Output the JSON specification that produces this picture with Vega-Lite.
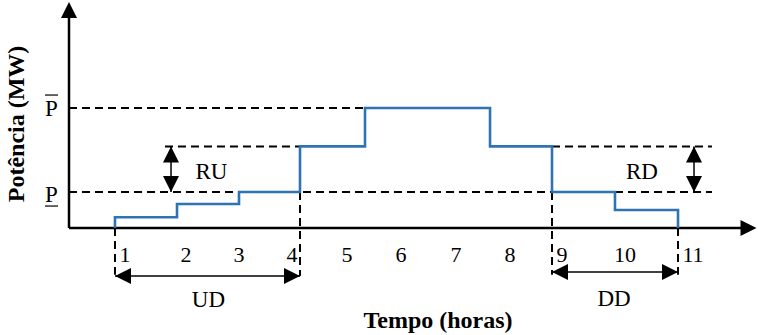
{
  "$schema": "https://vega.github.io/schema/vega-lite/v6.json",
  "width": 758,
  "height": 335,
  "autosize": {"type": "fit", "contains": "padding"},
  "padding": 0,
  "background": "white",
  "config": {"view": {"stroke": null}},
  "datasets": {
    "power": [
      {"i": 0, "hour": 0.836, "mw": 0},
      {"i": 1, "hour": 0.836, "mw": 9},
      {"i": 2, "hour": 1.964, "mw": 20},
      {"i": 3, "hour": 3.091, "mw": 30},
      {"i": 4, "hour": 4.2, "mw": 68},
      {"i": 5, "hour": 5.382, "mw": 100},
      {"i": 6, "hour": 7.655, "mw": 68},
      {"i": 7, "hour": 8.782, "mw": 30},
      {"i": 8, "hour": 9.927, "mw": 15},
      {"i": 9, "hour": 11.073, "mw": 0}
    ],
    "guides": [
      {"name": "Pmax", "x": 0, "x2": 5.382, "y": 100, "y2": 100},
      {"name": "ramp-up", "x": 1.745, "x2": 4.2, "y": 68, "y2": 68},
      {"name": "ramp-down", "x": 8.782, "x2": 11.69, "y": 68, "y2": 68},
      {"name": "Pmin", "x": 0, "x2": 11.69, "y": 30, "y2": 30},
      {"name": "on", "x": 0.836, "x2": 0.836, "y": 0, "y2": -39},
      {"name": "up-end", "x": 4.2, "x2": 4.2, "y": 30, "y2": -40},
      {"name": "off", "x": 8.782, "x2": 8.782, "y": 30, "y2": -39},
      {"name": "down-end", "x": 11.073, "x2": 11.073, "y": 0, "y2": -39}
    ],
    "axes": [
      {"name": "time", "x": 0, "x2": 12.27, "y": 0, "y2": 0},
      {"name": "power", "x": 0, "x2": 0, "y": 0, "y2": 175.8}
    ],
    "spans": [
      {"name": "RU", "x": 1.855, "x2": 1.855, "y": 68, "y2": 30},
      {"name": "RD", "x": 11.364, "x2": 11.364, "y": 68, "y2": 30},
      {"name": "UD", "x": 0.836, "x2": 4.2, "y": -40, "y2": -40},
      {"name": "DD", "x": 8.782, "x2": 11.073, "y": -36.7, "y2": -36.7}
    ],
    "heads": [
      {"x": 0, "y": 188.3, "dir": "up"},
      {"x": 12.5, "y": 0, "dir": "right"},
      {"x": 1.855, "y": 68, "dir": "up"},
      {"x": 1.855, "y": 30, "dir": "down"},
      {"x": 11.364, "y": 68, "dir": "up"},
      {"x": 11.364, "y": 30, "dir": "down"},
      {"x": 0.836, "y": -40, "dir": "left"},
      {"x": 4.2, "y": -40, "dir": "right"},
      {"x": 8.782, "y": -36.7, "dir": "left"},
      {"x": 11.073, "y": -36.7, "dir": "right"}
    ],
    "bars": [
      {"x": -0.436, "x2": -0.2, "y": 110.8, "y2": 110.8},
      {"x": -0.436, "x2": -0.2, "y": 18.3, "y2": 18.3}
    ],
    "ticks": [
      {"label": "1", "x": 1.018, "y": -22.5},
      {"label": "2", "x": 2.127, "y": -22.5},
      {"label": "3", "x": 3.091, "y": -22.5},
      {"label": "4", "x": 4.055, "y": -22.5},
      {"label": "5", "x": 5.055, "y": -22.5},
      {"label": "6", "x": 6.036, "y": -22.5},
      {"label": "7", "x": 7.036, "y": -22.5},
      {"label": "8", "x": 8.018, "y": -22.5},
      {"label": "9", "x": 8.964, "y": -22.5},
      {"label": "10", "x": 10.109, "y": -22.5},
      {"label": "11", "x": 11.345, "y": -22.5}
    ],
    "labels": [
      {"label": "RU", "x": 2.59, "y": 46.7},
      {"label": "RD", "x": 10.418, "y": 46.7},
      {"label": "UD", "x": 2.536, "y": -60.4},
      {"label": "DD", "x": 9.909, "y": -59.2},
      {"label": "P", "x": -0.318, "y": 98.75},
      {"label": "P", "x": -0.318, "y": 27.9}
    ],
    "titles": [
      {"label": "Tempo (horas)", "x": 6.709, "y": -77.5, "angle": 0},
      {"label": "Potência (MW)", "x": -0.945, "y": 86.7, "angle": 270}
    ]
  },
  "layer": [
    {
      "data": {"name": "guides"},
      "mark": {"type": "rule", "color": "#000", "strokeWidth": 2, "strokeDash": [8, 5]},
      "encoding": {
        "x": {"field": "x", "type": "quantitative", "scale": {"domain": [-1.2545, 12.5273], "nice": false, "zero": false}, "axis": null},
        "x2": {"field": "x2"},
        "y": {"field": "y", "type": "quantitative", "scale": {"domain": [-89.17, 190], "nice": false, "zero": false}, "axis": null},
        "y2": {"field": "y2"}
      }
    },
    {
      "data": {"name": "axes"},
      "mark": {"type": "rule", "color": "#000", "strokeWidth": 2.5},
      "encoding": {
        "x": {"field": "x", "type": "quantitative", "axis": null},
        "x2": {"field": "x2"},
        "y": {"field": "y", "type": "quantitative", "axis": null},
        "y2": {"field": "y2"}
      }
    },
    {
      "data": {"name": "power"},
      "mark": {"type": "line", "interpolate": "step-after", "color": "#2e74b5", "strokeWidth": 2.6, "strokeJoin": "miter", "strokeCap": "butt"},
      "encoding": {
        "x": {"field": "hour", "type": "quantitative", "axis": null},
        "y": {"field": "mw", "type": "quantitative", "axis": null},
        "order": {"field": "i"}
      }
    },
    {
      "data": {"name": "spans"},
      "mark": {"type": "rule", "color": "#000", "strokeWidth": 1.5},
      "encoding": {
        "x": {"field": "x", "type": "quantitative", "axis": null},
        "x2": {"field": "x2"},
        "y": {"field": "y", "type": "quantitative", "axis": null},
        "y2": {"field": "y2"}
      }
    },
    {
      "data": {"name": "bars"},
      "mark": {"type": "rule", "color": "#000", "strokeWidth": 1.2},
      "encoding": {
        "x": {"field": "x", "type": "quantitative", "axis": null},
        "x2": {"field": "x2"},
        "y": {"field": "y", "type": "quantitative", "axis": null},
        "y2": {"field": "y2"}
      }
    },
    {
      "data": {"name": "heads"},
      "mark": {"type": "point", "filled": true, "opacity": 1, "color": "#000", "strokeWidth": 0, "size": 256},
      "encoding": {
        "x": {"field": "x", "type": "quantitative", "axis": null},
        "y": {"field": "y", "type": "quantitative", "axis": null},
        "shape": {
          "field": "dir",
          "type": "nominal",
          "scale": {
            "domain": ["up", "down", "left", "right"],
            "range": ["M0,0L-1,2L1,2Z", "M0,0L-1,-2L1,-2Z", "M0,0L2,-1L2,1Z", "M0,0L-2,-1L-2,1Z"]
          },
          "legend": null
        }
      }
    },
    {
      "data": {"name": "ticks"},
      "mark": {"type": "text", "font": "Liberation Serif", "fontSize": 22, "color": "#000", "align": "center", "baseline": "middle"},
      "encoding": {
        "x": {"field": "x", "type": "quantitative", "axis": null},
        "y": {"field": "y", "type": "quantitative", "axis": null},
        "text": {"field": "label"}
      }
    },
    {
      "data": {"name": "labels"},
      "mark": {"type": "text", "font": "Liberation Serif", "fontSize": 23, "color": "#000", "align": "center", "baseline": "middle"},
      "encoding": {
        "x": {"field": "x", "type": "quantitative", "axis": null},
        "y": {"field": "y", "type": "quantitative", "axis": null},
        "text": {"field": "label"}
      }
    },
    {
      "data": {"name": "titles"},
      "mark": {"type": "text", "font": "Liberation Serif", "fontSize": 24, "fontWeight": "bold", "color": "#000", "align": "center", "baseline": "middle"},
      "encoding": {
        "x": {"field": "x", "type": "quantitative", "axis": null},
        "y": {"field": "y", "type": "quantitative", "axis": null},
        "angle": {"field": "angle", "type": "quantitative", "scale": null},
        "text": {"field": "label"}
      }
    }
  ]
}
